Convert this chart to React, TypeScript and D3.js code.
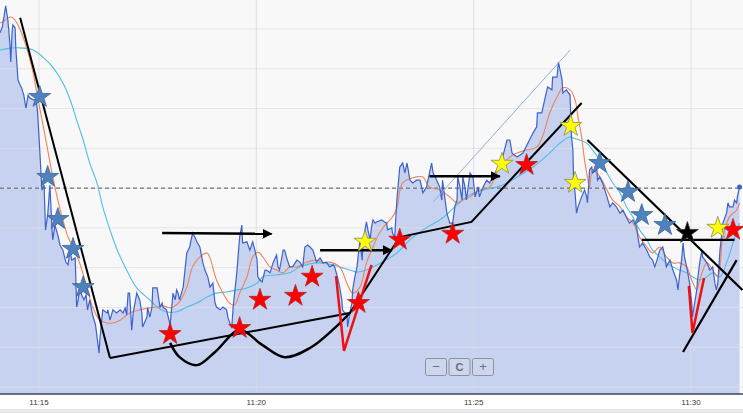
import React from 'react';
import * as d3 from 'd3';

// ---------- data (time = seconds after 11:14:00, value = price units) ----------
const priceTicks: [number, number][] = [
  [6,89.0],[9,90.3],[12,93.5],[14,95.8],[17,92.3],[20,86.0],[21,81.7],[23,89.7],[24,91.0],[27,90.3],
  [28,85.2],[31,77.2],[34,75.9],[36,75.2],[39,73.4],[42,70.1],[45,73.4],[47,72.7],[52,72.2],[56,72.2],
  [58,69.1],[61,59.6],[64,49.5],[67,50.8],[69,39.5],[72,43.2],[75,50.8],[78,39.5],[79,37.0],[82,40.7],
  [86,38.2],[89,35.7],[93,34.4],[97,31.4],[100,30.7],[103,34.4],[105,31.9],[110,32.4],[112,20.1],[114,21.9],
  [116,24.4],[122,21.9],[125,23.1],[127,19.4],[130,21.9],[134,18.1],[138,15.6],[143,8.5],[144,11.8],[147,17.6],
  [148,19.4],[154,18.6],[155,19.4],[158,16.8],[162,19.4],[167,18.6],[172,19.4],[176,18.6],[179,19.9],[181,18.1],
  [183,23.6],[185,23.6],[188,14.3],[190,18.6],[195,23.6],[196,23.1],[199,21.9],[202,18.6],[203,15.1],[209,17.6],
  [210,19.9],[213,17.6],[216,20.1],[217,24.9],[223,24.9],[227,20.1],[230,21.1],[231,20.1],[236,19.4],[241,15.6],
  [245,23.6],[248,21.9],[250,24.4],[252,23.6],[254,21.9],[259,25.1],[264,33.7],[268,35.2],[272,38.7],[275,37.7],
  [278,36.5],[282,35.2],[286,31.4],[289,29.4],[293,27.7],[296,25.1],[300,26.1],[303,21.1],[305,20.1],[310,19.4],
  [314,20.1],[319,19.4],[321,17.3],[326,14.8],[328,20.1],[333,28.7],[337,37.7],[340,40.7],[341,36.2],[347,36.5],
  [351,34.4],[355,36.5],[358,34.4],[361,31.9],[362,27.7],[365,26.9],[368,26.4],[372,29.4],[374,29.4],[379,28.7],
  [383,31.2],[388,33.2],[390,30.2],[392,29.4],[397,34.4],[399,34.4],[402,32.4],[406,30.2],[410,30.2],[416,31.9],
  [420,31.4],[424,30.2],[427,35.2],[431,35.7],[434,35.2],[438,34.4],[441,32.7],[443,31.4],[448,32.4],[452,31.2],
  [457,31.4],[461,30.2],[466,30.7],[468,30.2],[472,27.7],[475,25.1],[478,21.9],[479,19.4],[482,18.6],[485,18.6],
  [486,15.1],[489,18.6],[492,21.1],[493,24.4],[496,27.7],[499,30.2],[500,31.9],[503,37.0],[506,31.9],[507,35.2],
  [510,39.5],[512,41.5],[514,39.5],[517,37.0],[519,40.2],[521,42.0],[524,41.2],[526,41.5],[533,42.0],[537,41.5],
  [540,41.2],[541,39.5],[547,40.0],[548,38.7],[551,37.7],[554,47.0],[558,55.3],[562,56.3],[565,53.8],[568,56.3],
  [569,55.3],[572,52.0],[576,51.3],[581,52.0],[586,52.0],[590,48.8],[595,50.3],[599,53.8],[602,56.3],[604,53.8],
  [609,52.0],[613,50.3],[616,47.0],[617,52.0],[620,47.8],[623,43.7],[627,41.2],[631,41.2],[634,45.3],[637,47.0],
  [638,52.8],[641,50.3],[644,47.0],[645,52.8],[648,50.3],[650,47.0],[655,53.8],[659,52.8],[662,47.8],[666,50.3],
  [668,47.8],[673,50.3],[678,52.0],[682,51.3],[686,52.8],[692,54.6],[700,57.8],[706,62.1],[710,62.1],[713,58.8],
  [720,57.8],[728,58.8],[737,62.1],[742,63.9],[747,65.4],[748,68.9],[754,68.9],[758,72.2],[762,75.4],[768,74.7],
  [769,77.9],[775,77.9],[777,81.7],[782,77.2],[783,73.9],[788,74.7],[793,73.4],[795,62.9],[797,59.6],[798,51.3],
  [800,48.8],[802,43.7],[804,45.3],[809,47.8],[813,49.5],[816,47.8],[817,46.3],[819,51.3],[820,54.6],[823,55.3],
  [824,53.8],[830,54.6],[831,52.0],[834,52.8],[838,51.3],[844,47.8],[848,45.3],[852,46.3],[857,45.3],[862,43.7],
  [866,44.5],[871,42.7],[875,41.2],[880,42.0],[885,40.2],[886,38.7],[889,35.2],[893,36.2],[899,34.4],[903,32.7],
  [907,31.9],[910,30.2],[913,31.9],[917,34.4],[921,35.2],[924,32.7],[926,30.2],[931,31.9],[935,29.4],[940,26.9],
  [942,24.4],[944,27.7],[947,31.9],[949,36.2],[951,32.7],[955,29.4],[958,26.1],[961,21.1],[962,17.6],[965,21.1],
  [968,24.4],[969,26.9],[972,31.2],[975,34.4],[976,32.7],[982,31.2],[986,29.4],[990,30.2],[993,26.1],[995,24.4],
  [997,26.1],[1000,34.4],[1002,37.7],[1004,41.2],[1009,43.7],[1011,46.3],[1013,45.3],[1018,45.3],[1020,47.0],[1023,46.3],
  [1024,47.8],[1027,50.3],
];

const fastMA: [number, number][] = [
  [6,91.5],[10,91.8],[20,93.0],[24,92.8],[31,91.0],[38,88.0],[45,84.0],[52,78.9],[58,72.9],[65,66.4],
  [72,59.6],[79,52.8],[86,47.0],[93,42.0],[100,37.7],[107,35.2],[116,31.2],[126,25.1],[134,20.1],[144,16.8],
  [154,16.1],[162,16.1],[172,16.8],[185,18.6],[199,19.4],[213,19.9],[223,20.1],[231,20.4],[241,19.9],[245,20.1],
  [254,21.4],[264,25.1],[272,30.2],[282,32.7],[292,33.7],[296,32.4],[305,26.9],[314,23.6],[323,21.1],[330,20.6],
  [337,23.6],[347,27.7],[355,32.7],[362,33.9],[369,32.7],[379,30.2],[388,29.4],[397,28.7],[406,30.2],[416,30.2],
  [430,31.4],[443,31.9],[452,31.2],[461,31.4],[475,30.2],[485,26.1],[493,23.6],[503,25.1],[512,31.2],[521,35.2],
  [530,38.7],[540,41.2],[547,42.5],[554,45.0],[562,51.3],[581,52.8],[590,52.8],[599,50.3],[613,49.5],[627,47.8],
  [637,46.3],[645,47.0],[655,47.8],[668,49.5],[682,50.3],[696,55.3],[710,57.8],[720,58.8],[733,59.6],[747,60.3],
  [755,62.9],[765,68.9],[775,72.9],[783,75.2],[793,74.7],[800,72.2],[804,67.9],[809,62.9],[813,57.1],[817,52.8],
  [820,50.3],[824,54.6],[830,53.8],[837,52.0],[844,49.5],[852,47.0],[862,45.3],[871,42.7],[880,41.2],[889,37.7],
  [899,35.2],[907,33.7],[917,35.2],[926,32.7],[935,31.2],[944,31.2],[954,30.2],[961,26.9],[968,24.4],[972,26.9],
  [982,31.2],[990,29.4],[997,27.7],[1004,37.7],[1013,42.7],[1023,44.5],[1027,46.3],
];

const slowMA: [number, number][] = [
  [6,84.7],[20,85.2],[38,85.2],[52,84.7],[65,83.0],[79,80.4],[93,76.4],[103,72.2],[112,67.1],[121,62.1],
  [130,56.3],[140,51.3],[148,45.3],[158,39.5],[167,34.9],[181,29.4],[195,24.9],[213,21.9],[223,20.1],[236,18.9],
  [250,18.9],[264,20.1],[278,21.1],[292,22.6],[305,23.6],[319,23.9],[333,24.4],[347,24.9],[361,26.1],[369,27.7],
  [388,28.2],[406,28.7],[420,30.2],[443,31.2],[461,30.9],[475,30.2],[489,29.4],[499,28.9],[512,29.4],[534,31.4],
  [554,33.7],[572,37.0],[590,39.5],[617,42.5],[637,45.8],[655,48.3],[673,49.5],[696,50.5],[720,52.8],[742,55.3],
  [765,58.8],[779,61.3],[793,62.9],[797,62.6],[806,62.1],[816,61.3],[824,59.6],[834,57.1],[844,53.8],[852,51.3],
  [862,48.8],[871,45.3],[880,42.7],[889,39.5],[899,37.0],[907,34.4],[917,32.7],[926,31.2],[935,30.2],[944,29.4],
  [954,28.7],[962,27.7],[972,26.9],[982,27.7],[990,28.7],[1000,27.7],[1009,31.2],[1018,36.2],[1027,41.2],
];

const priceGrid = [0, 10, 20, 30, 40, 50, 60, 70, 80, 90];
const prevClose = 50;
const timeTickLabels = ['11:15', '11:20', '11:25', '11:30'];

// hand-drawn annotations
const downTrend: [number, number][] = [[34, 92.8], [158, 7.3]];
const supportPath: [number, number][] = [[158, 7.3], [489, 18.6], [558, 37.7], [657, 41.5], [809, 71.4]];
const waveCurve: [number, number][] = [
  [241, 11.1], [254, 7.5], [278, 5.5], [303, 8.8], [337, 14.3], [368, 10.6], [399, 7.5], [434, 9.8], [468, 14.8], [489, 18.6],
];
const arrowSegments: [number, number][][] = [
  [[230, 38.7], [381, 38.5]],
  [[448, 34.4], [547, 34.4]],
  [[599, 53.0], [696, 53.0]],
];
const channelLine: [number, number][] = [[604, 46.5], [793, 84.7]];
const rightLines: [number, number][][] = [
  [[817, 62.1], [1031, 24.4]],
  [[892, 37.0], [1020, 37.0]],
  [[949, 8.8], [1023, 31.9]],
];
const redVs: [number, number][][] = [
  [[470, 27.9], [481, 9.1], [519, 30.7]],
  [[957, 25.4], [962, 13.6], [978, 27.4]],
];
const blueStars: [number, number][] = [
  [61, 72.9], [72, 52.8], [86, 42.2], [107, 34.7], [121, 25.1], [834, 56.3], [873, 49.0], [892, 43.2], [924, 40.7],
];
const redStars: [number, number][] = [
  [241, 13.3], [337, 14.8], [365, 21.9], [414, 22.9], [437, 27.7], [501, 21.1], [558, 37.0], [631, 38.5], [733, 55.8], [1018, 39.5],
];
const yellowStars: [number, number][] = [[510, 36.5], [699, 56.1], [794, 65.6], [800, 51.3], [997, 40.0]];
const blackStars: [number, number][] = [[955, 38.7]];

// ---------- layout ----------
const W = 743;
const H = 413;
const PLOT_RIGHT = 740;
const PLOT_BOTTOM = 394;

const toDate = (s: number) => new Date(2020, 0, 1, 11, 14, s);
const labelDate = (l: string) => {
  const [h, m] = l.split(':').map(Number);
  return new Date(2020, 0, 1, h, m, 0);
};

const x = d3.scaleTime().domain([labelDate('11:15'), labelDate('11:30')]).range([39, 691]);
const y = d3.scaleLinear().domain([0, 90]).range([387, 29]);

const px = (d: [number, number]) => x(toDate(d[0]));
const py = (d: [number, number]) => y(d[1]);

const lineGen = d3.line<[number, number]>().x(px).y(py);
const smoothGen = d3.line<[number, number]>().x(px).y(py).curve(d3.curveCatmullRom.alpha(0.5));
const areaGen = d3.area<[number, number]>().x(px).y0(PLOT_BOTTOM).y1(py);

const starPath = (r: number) => d3.symbol().type(d3.symbolStar).size((r * r) / 0.8908130915292852)() as string;

const FONT = "'Liberation Sans', Arial, sans-serif";

export default function App() {
  const starGroups: { pts: [number, number][]; fill: string; stroke: string }[] = [
    { pts: blueStars, fill: '#4f81bd', stroke: '#3b6699' },
    { pts: redStars, fill: '#ff0000', stroke: '#b02a2a' },
    { pts: yellowStars, fill: '#ffff00', stroke: '#8c8c5a' },
    { pts: blackStars, fill: '#000000', stroke: '#333333' },
  ];
  const sp = starPath(11.5);
  const last = priceTicks[priceTicks.length - 1];

  return (
    <svg width={W} height={H} style={{ position: 'absolute', left: 0, top: 0 }}>
      <defs>
        <marker id="arrowHead" viewBox="0 0 10 10" refX="9" refY="5" markerWidth="4" markerHeight="4" orient="auto">
          <path d="M0,0 L10,5 L0,10 z" fill="#000" />
        </marker>
        <clipPath id="plotClip">
          <rect x={0} y={0} width={W} height={PLOT_BOTTOM} />
        </clipPath>
      </defs>
      <rect x={0} y={0} width={W} height={H} fill="#ffffff" />
      <rect x={0} y={0} width={W} height={PLOT_BOTTOM} fill="#f8f8f8" />

      <path d={areaGen(priceTicks) as string} fill="#c6d2f0" />

      {priceGrid.map((g) => (
        <line key={'g' + g} x1={0} x2={W} y1={y(g)} y2={y(g)} stroke="rgba(225,225,228,0.8)" strokeWidth={1} />
      ))}
      {timeTickLabels.map((l) => (
        <line key={'v' + l} x1={x(labelDate(l))} x2={x(labelDate(l))} y1={0} y2={PLOT_BOTTOM} stroke="rgba(215,218,225,0.8)" strokeWidth={1} />
      ))}
      <line x1={0} x2={PLOT_RIGHT} y1={y(prevClose)} y2={y(prevClose)} stroke="#555" strokeWidth={1} strokeDasharray="4,3" />

      <g clipPath="url(#plotClip)">
        <path d={smoothGen(slowMA) as string} fill="none" stroke="#52bde8" strokeWidth={1.1} />
        <path d={smoothGen(fastMA) as string} fill="none" stroke="#ee8458" strokeWidth={1.1} />
        <path d={lineGen(priceTicks) as string} fill="none" stroke="#3d62cc" strokeWidth={1.2} />
        <circle cx={px(last)} cy={py(last)} r={2.5} fill="#3d62cc" />

        <path d={lineGen(channelLine) as string} fill="none" stroke="#8fb0d4" strokeWidth={1} />
        <path d={lineGen(downTrend) as string} fill="none" stroke="#000" strokeWidth={2} />
        <path d={lineGen(supportPath) as string} fill="none" stroke="#000" strokeWidth={2} />
        <path d={smoothGen(waveCurve) as string} fill="none" stroke="#000" strokeWidth={2.5} />
        {rightLines.map((s, i) => (
          <path key={'r' + i} d={lineGen(s) as string} fill="none" stroke="#000" strokeWidth={2.2} />
        ))}
        {redVs.map((s, i) => (
          <path key={'v' + i} d={lineGen(s) as string} fill="none" stroke="#ee1111" strokeWidth={2.5} strokeLinejoin="miter" />
        ))}
        {arrowSegments.map((s, i) => (
          <path key={'a' + i} d={lineGen(s) as string} fill="none" stroke="#000" strokeWidth={2.5} markerEnd="url(#arrowHead)" />
        ))}
        {starGroups.map((grp, gi) =>
          grp.pts.map((p, i) => (
            <path key={'s' + gi + '-' + i} d={sp} transform={`translate(${px(p)},${py(p)})`} fill={grp.fill} stroke={grp.stroke} strokeWidth={0.8} />
          ))
        )}
      </g>

      {['−', 'C', '+'].map((t, i) => (
        <g key={'b' + i} transform={`translate(${425 + i * 23.5},358)`}>
          <rect x={0.5} y={0.5} width={21} height={17} rx={2} fill="rgba(205,214,236,0.9)" stroke="#8d929c" strokeWidth={1} />
          <text x={11} y={13} textAnchor="middle" fontFamily={FONT} fontSize={i === 1 ? 11 : 13} fontWeight={i === 1 ? 'bold' : 'normal'} fill="#6b6f78">
            {t}
          </text>
        </g>
      ))}

      <line x1={0} x2={W} y1={PLOT_BOTTOM} y2={PLOT_BOTTOM} stroke="#3b4656" strokeWidth={1.5} />
      <rect x={0} y={409} width={W} height={H - 409} fill="#e8e8e8" />
      {timeTickLabels.map((l) => (
        <text key={'t' + l} x={x(labelDate(l))} y={405} textAnchor="middle" fontFamily={FONT} fontSize={8} fill="#3a3a3a">
          {l}
        </text>
      ))}
    </svg>
  );
}
